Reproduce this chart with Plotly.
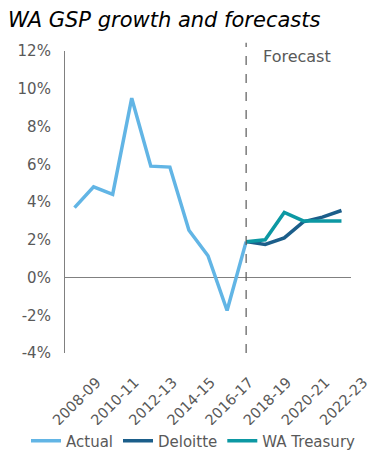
import plotly.graph_objects as go

years = ["2008-09", "2009-10", "2010-11", "2011-12", "2012-13", "2013-14", "2014-15",
         "2015-16", "2016-17", "2017-18", "2018-19", "2019-20", "2020-21", "2021-22", "2022-23"]
actual = [3.7, 4.8, 4.4, 9.5, 5.9, 5.85, 2.5, 1.15, -1.75, 1.9]
deloitte = [1.9, 1.75, 2.1, 2.95, 3.2, 3.55]
treasury = [1.9, 2.0, 3.45, 3.0, 3.0, 3.0]
tick_years = years[::2]
y_ticks = [-4, -2, 0, 2, 4, 6, 8, 10, 12]
y_text = [f"{v}%" for v in y_ticks]

xi = list(range(len(years)))
fore_start = len(actual) - 1

# page body has an 8px margin, so the figure is drawn 8px smaller
W, H = 371, 451
ML, MR, MT, MB = 57, 28, 43, 106
PW = W - ML - MR
PH = H - MT - MB

fig = go.Figure()
fig.add_trace(go.Scatter(x=xi[:len(actual)], y=actual, mode="lines", name="Actual",
                         line=dict(color="#62B5E5", width=3.5)))
fig.add_trace(go.Scatter(x=xi[fore_start:], y=deloitte, mode="lines", name="Deloitte",
                         line=dict(color="#1B5E8A", width=3.5)))
fig.add_trace(go.Scatter(x=xi[fore_start:], y=treasury, mode="lines", name="WA Treasury",
                         line=dict(color="#0C98A3", width=3.5)))

fig.add_shape(type="line", xref="x", yref="paper", x0=fore_start, x1=fore_start, y0=0, y1=1.027,
              line=dict(color="#595959", width=1.2, dash="dash"))
fig.add_annotation(x=fore_start + 0.8, y=11.7, xref="x", yref="y", text="Forecast",
                   showarrow=False, xanchor="left", yanchor="middle",
                   font=dict(size=16, color="#595959"))

fig.update_layout(
    width=W, height=H,
    margin=dict(l=ML, r=MR, t=MT, b=MB, autoexpand=False),
    paper_bgcolor="white", plot_bgcolor="white",
    font=dict(family="DejaVu Sans", color="#595959", size=14),
    title=dict(text="<i>WA GSP growth and forecasts</i>", x=0, xanchor="left", xref="container",
               y=1 - 12 / H, yref="container", yanchor="middle",
               font=dict(size=21, color="#000000")),
    showlegend=True,
    legend=dict(orientation="h", x=(18 - ML) / PW, xanchor="left",
                y=-(433 - (H - MB)) / PH, yanchor="middle",
                font=dict(size=15, color="#595959"), tracegroupgap=0),
)
fig.update_xaxes(range=[-0.5, 14.5], tickmode="array", tickvals=xi[::2], ticktext=tick_years,
                 tickangle=-45, showgrid=False, zeroline=False, showline=False, automargin=False,
                 ticks="", ticklabelshift=22, ticklabelstandoff=17,
                 tickfont=dict(size=14.5, color="#595959"))
fig.update_yaxes(range=[-4, 12], tickmode="array", tickvals=y_ticks, ticktext=y_text,
                 showgrid=False, zeroline=True, zerolinecolor="#808080", zerolinewidth=1.2,
                 showline=True, linecolor="#808080", linewidth=1.2, ticks="", automargin=False,
                 ticklabelstandoff=10, tickfont=dict(size=15, color="#595959"))

fig.write_html("out.html")
